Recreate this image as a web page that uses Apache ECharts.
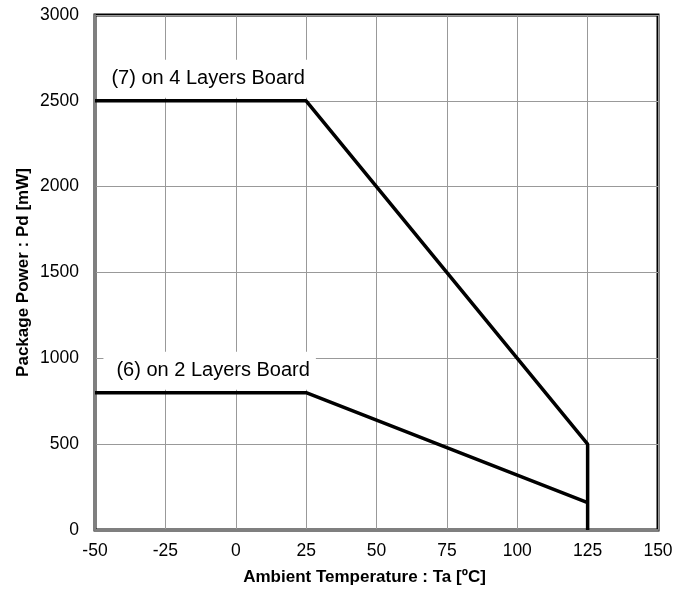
<!DOCTYPE html>
<html>
<head>
<meta charset="utf-8">
<script src="https://cdn.jsdelivr.net/npm/echarts@6/dist/echarts.min.js"></script>
<style>
  html, body { margin: 0; padding: 0; background: #fff; }
  #chart { width: 676px; height: 594px; }
</style>
</head>
<body>
<div id="chart"></div>
<script>
// derating curves, temperature [°C] vs package power [mW]
const board4Temp = [-50, 25, 125, 125];
const board4Power = [2500, 2500, 500, 0];
const board2Temp = [-50, 25, 125];
const board2Power = [800, 800, 160];

const board4Label = '(7) on 4 Layers Board';
const board2Label = '(6) on 2 Layers Board';
const labelAt4 = [-47, 2500];
const labelAt2 = [-47, 800];

const xTicks = [-50, 150, 25];   // min, max, step
const yTicks = [0, 3000, 500];

const font = '"Liberation Sans", Arial, sans-serif';

function pairs(xs, ys) {
  return xs.map((x, i) => [x, ys[i]]);
}

function boardLabel(text, at, padLeft) {
  return {
    symbol: 'circle',
    symbolSize: 0,
    silent: true,
    data: [{ coord: at }],
    label: {
      show: true,
      formatter: text,
      position: 'right',
      distance: 0,
      offset: [0, -22],
      color: '#000',
      fontFamily: font,
      fontSize: 20,
      lineHeight: 20,
      backgroundColor: '#fff',
      padding: [10, 6, 8, padLeft]
    }
  };
}

const chart = echarts.init(document.getElementById('chart'));
chart.setOption({
  animation: false,
  grid: {
    left: 95, right: 18, top: 15, bottom: 64,
    show: true,
    borderColor: '#000',
    borderWidth: 3
  },
  xAxis: {
    type: 'value',
    min: xTicks[0], max: xTicks[1], interval: xTicks[2],
    name: 'Ambient Temperature : Ta [ºC]',
    nameLocation: 'middle',
    nameGap: 39,
    nameMoveOverlap: false,
    nameTextStyle: { fontFamily: font, fontSize: 17, fontWeight: 'bold', color: '#000', padding: [0, 24, 0, 0] },
    axisLine: { show: true, onZero: false, lineStyle: { color: '#7f7f7f', width: 2 } },
    axisTick: { show: false },
    axisLabel: { fontFamily: font, fontSize: 17.5, color: '#000', margin: 12 },
    splitLine: { show: true, lineStyle: { color: '#999', width: 1 } }
  },
  yAxis: {
    type: 'value',
    min: yTicks[0], max: yTicks[1], interval: yTicks[2],
    name: 'Package Power : Pd [mW]',
    nameLocation: 'middle',
    nameGap: 63,
    nameMoveOverlap: false,
    nameTextStyle: { fontFamily: font, fontSize: 17, fontWeight: 'bold', color: '#000' },
    axisLine: { show: true, onZero: false, lineStyle: { color: '#7f7f7f', width: 2 } },
    axisTick: { show: false },
    axisLabel: { fontFamily: font, fontSize: 17.5, color: '#000', margin: 16, formatter: v => String(v) },
    splitLine: { show: true, lineStyle: { color: '#999', width: 1 } }
  },
  series: [
    {
      type: 'line',
      data: pairs(board4Temp, board4Power),
      symbol: 'none',
      lineStyle: { color: '#000', width: 3.5 },
      markPoint: boardLabel(board4Label, labelAt4, 8),
      z: 3
    },
    {
      type: 'line',
      data: pairs(board2Temp, board2Power),
      symbol: 'none',
      lineStyle: { color: '#000', width: 3.5 },
      markPoint: boardLabel(board2Label, labelAt2, 13),
      z: 3
    }
  ]
});
</script>
</body>
</html>
